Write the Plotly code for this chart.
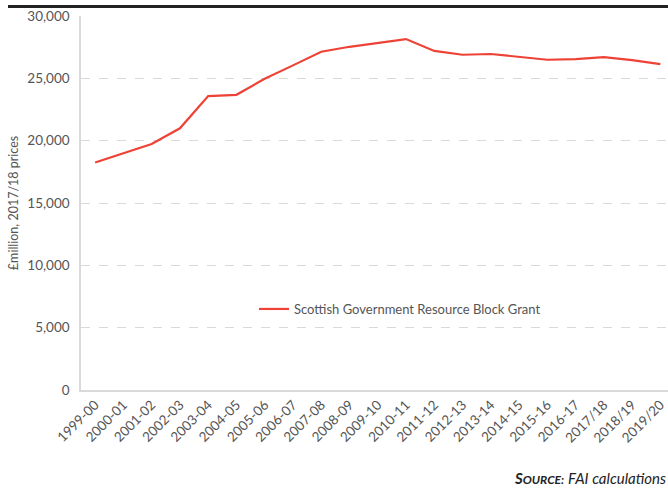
import plotly.graph_objects as go

years = ["1999-00", "2000-01", "2001-02", "2002-03", "2003-04", "2004-05", "2005-06",
         "2006-07", "2007-08", "2008-09", "2009-10", "2010-11", "2011-12", "2012-13",
         "2013-14", "2014-15", "2015-16", "2016-17", "2017/18", "2018/19", "2019/20"]
block_grant = [18250, 18980, 19730, 20990, 23580, 23680, 24970, 26040, 27130, 27530,
               27850, 28150, 27200, 26890, 26950, 26730, 26490, 26540, 26700, 26460, 26140]
y_ticks = [0, 5000, 10000, 15000, 20000, 25000, 30000]

FONT = "Lato, 'Open Sans', sans-serif"

L, R, T, B = 81, 0, 16, 104
PW, PH = 668 - L - R, 494 - T - B

fig = go.Figure()
fig.add_trace(go.Scatter(
    x=list(range(len(years))), y=block_grant, mode="lines",
    name="Scottish Government Resource Block Grant",
    line=dict(color="#EE4236", width=2.2),
))

fig.update_layout(
    width=668, height=494,
    margin=dict(l=L, r=R, t=T, b=B, autoexpand=False),
    paper_bgcolor="white", plot_bgcolor="white",
    font=dict(family=FONT, size=12, color="#555555"),
    showlegend=True,
    legend=dict(x=(254 - L) / PW, y=(494 - B - 309) / PH, xanchor="left", yanchor="middle",
                bgcolor="rgba(0,0,0,0)", font=dict(size=13, color="#555555"),
                itemwidth=30),
    xaxis=dict(
        range=[-0.5, 20.27], automargin=False,
        tickmode="array", tickvals=list(range(len(years))), ticktext=years,
        tickangle=-45, showgrid=False, zeroline=False,
        showline=True, linecolor="#d9d9d9", linewidth=1.5,
        ticks="", tickfont=dict(size=13.5, color="#555555"),
        ticklabeloverflow="allow",
    ),
    yaxis=dict(
        range=[0, 30000], tickvals=y_ticks, tickformat=",", automargin=False,
        showgrid=True, gridcolor="#d9d9d9", griddash="dash", gridwidth=1,
        zeroline=False, showline=True, linecolor="#d9d9d9", linewidth=1.5,
        ticks="", ticklen=0, tickfont=dict(size=13.5, color="#555555"),
        ticklabelstandoff=7,
        title=dict(text="£million, 2017/18 prices", font=dict(size=12.5, color="#555555"), standoff=6),
    ),
)

fig.add_shape(type="line", xref="paper", yref="paper",
              x0=-(L - 8) / PW, x1=1, y0=1 + 9.5 / PH, y1=1 + 9.5 / PH,
              line=dict(color="#222222", width=3))

fig.add_annotation(
    xref="paper", yref="paper", x=1.0, y=-(478 - 390) / PH, xanchor="right", yanchor="middle",
    text="<b><i>S<span style='font-size:12px'>OURCE:</span></i></b> <i>FAI calculations</i>",
    showarrow=False, font=dict(size=15, color="#222222", family=FONT),
)

fig.write_html("out.html", config={"displayModeBar": False},
               post_script="document.body.style.margin='0';document.body.style.padding='0';")
